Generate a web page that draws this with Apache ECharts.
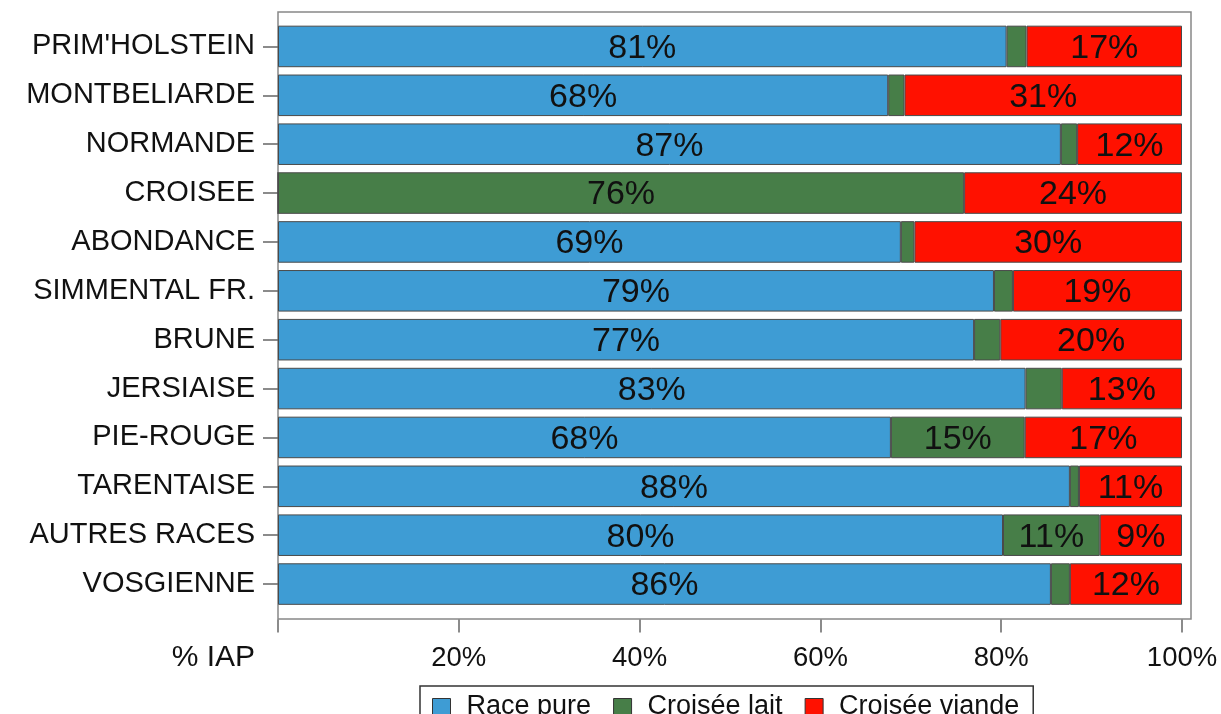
<!DOCTYPE html>
<html>
<head>
<meta charset="utf-8">
<script src="https://cdn.jsdelivr.net/npm/echarts@6/dist/echarts.min.js"></script>
<style>
html,body{margin:0;padding:0;background:#fff;}
#chart{width:1221px;height:714px;}
</style>
</head>
<body>
<div id="chart"></div>
<script>
const categories = ["PRIM'HOLSTEIN","MONTBELIARDE","NORMANDE","CROISEE","ABONDANCE","SIMMENTAL FR.","BRUNE","JERSIAISE","PIE-ROUGE","TARENTAISE","AUTRES RACES","VOSGIENNE"];
const racePure     = [80.6, 67.5, 86.6, 0,    68.9, 79.2, 77.0, 82.7, 67.8, 87.6, 80.2, 85.5];
const croiseeLait  = [2.2,  1.8,  1.8,  75.9, 1.5,  2.1,  2.9,  4.0,  14.8, 1.0,  10.7, 2.1];
const croiseeViande= [17.2, 30.7, 11.6, 24.1, 29.6, 18.7, 20.1, 13.3, 17.4, 11.4, 9.1,  12.4];
const xTicks = [0, 20, 40, 60, 80, 100];
const seriesNames = ['Race pure', 'Croisée lait', 'Croisée viande'];
const colors = ['#3e9cd4', '#477e48', '#ff1100'];

const FONT = '"Liberation Sans", Arial, sans-serif';
const chart = echarts.init(document.getElementById('chart'));

function mk(name, data, color) {
  return {
    name: name, type: 'bar', stack: 'total', data: data,
    barCategoryGap: '15%',
    itemStyle: { color: color, borderColor: '#4a4a4a', borderWidth: 1 },
    label: {
      show: true, position: 'inside', offset: [0, 2], color: '#111', fontSize: 34, fontFamily: FONT,
      formatter: p => p.value >= 5 ? Math.round(p.value) + '%' : ''
    },
    emphasis: { disabled: true }
  };
}

chart.setOption({
  animation: false,
  backgroundColor: '#fff',
  color: colors,
  grid: { left: 278, right: 39, top: 22, bottom: 105.5, containLabel: false },
  xAxis: {
    type: 'value', min: xTicks[0], max: xTicks[xTicks.length - 1], interval: 20,
    offset: 11,
    axisLine: { show: false },
    axisTick: { show: true, length: 13, lineStyle: { color: '#666', width: 1.5 } },
    splitLine: { show: false },
    axisLabel: { margin: 25, fontSize: 27.5, color: '#111', fontFamily: FONT,
      formatter: v => v === 0 ? '' : v + '%' }
  },
  yAxis: {
    type: 'category', data: categories, inverse: true,
    axisLine: { show: false },
    axisTick: { show: true, length: 15, alignWithLabel: true, lineStyle: { color: '#666', width: 1.5 } },
    axisLabel: { margin: 23, fontSize: 29, color: '#111', fontFamily: FONT, padding: [4, 0, 0, 0] }
  },
  legend: {
    data: seriesNames, left: 420, top: 686, orient: 'horizontal',
    icon: 'rect', itemWidth: 18, itemHeight: 16, itemGap: 22,
    padding: [7, 14, 7, 12],
    borderColor: '#333', borderWidth: 1.5,
    textStyle: { fontSize: 27, color: '#111', fontFamily: FONT, padding: [0, 0, 0, 11] },
    itemStyle: { borderColor: '#333', borderWidth: 1 },
    selectedMode: false
  },
  graphic: [
    { type: 'rect', z: 0, silent: true,
      shape: { x: 278, y: 12, width: 913, height: 607 },
      style: { fill: 'none', stroke: '#888', lineWidth: 1.5 } },
    { type: 'text', silent: true, x: 255, y: 658,
      style: { text: '% IAP', fontSize: 30, fill: '#111', fontFamily: FONT, align: 'right', verticalAlign: 'middle' } }
  ],
  series: [
    mk(seriesNames[0], racePure, colors[0]),
    mk(seriesNames[1], croiseeLait, colors[1]),
    mk(seriesNames[2], croiseeViande, colors[2])
  ]
});
</script>
</body>
</html>
